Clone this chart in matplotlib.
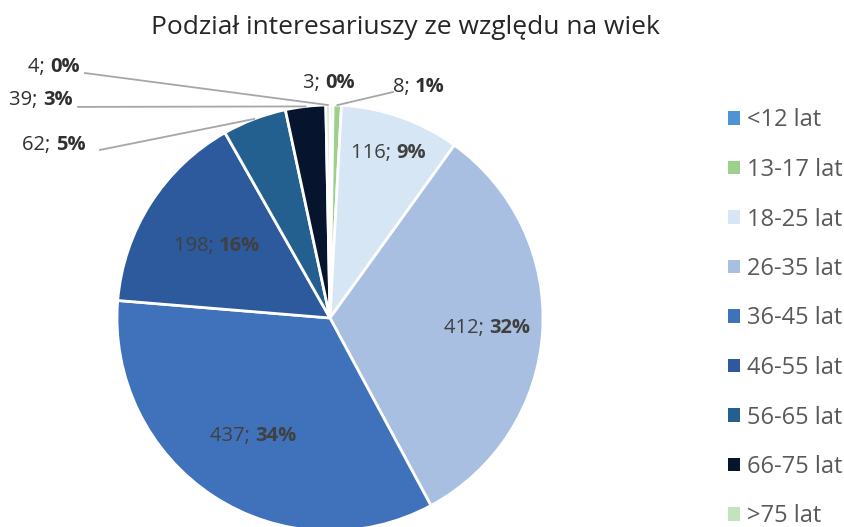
import numpy as np
import matplotlib.pyplot as plt
from matplotlib.patches import Patch
from matplotlib.offsetbox import TextArea, HPacker, AnnotationBbox

plt.rcParams['font.family'] = ['Open Sans', 'DejaVu Sans']

# data
categories = ['<12 lat', '13-17 lat', '18-25 lat', '26-35 lat', '36-45 lat',
              '46-55 lat', '56-65 lat', '66-75 lat', '>75 lat']
counts = [3, 8, 116, 412, 437, 198, 62, 39, 4]
percents = ['0%', '1%', '9%', '32%', '34%', '16%', '5%', '3%', '0%']

colors = ['#4E94D4', '#9DD08A', '#D6E6F5', '#A8BFE2', '#3F72BA',
          '#2D5A9C', '#23608F', '#07142E', '#C3E3BA']

# label placement: inside labels by radius, outside labels by explicit spot + leader
inside_r = {2: 0.82, 3: 0.74, 4: 0.66, 5: 0.63}
outside_pos = {0: (-0.005, 1.103), 1: (0.418, 1.085), 6: (-1.296, 0.812),
               7: (-1.357, 1.023), 8: (-1.296, 1.178)}
leader_start = {1: (0.296, 1.061), 6: (-1.080, 0.789),
                7: (-1.183, 0.991), 8: (-1.150, 1.150)}

fig = plt.figure(figsize=(8.45, 5.27), dpi=100)
cx, cy, R = 330, 318, 213
W, H = 845, 527
ax = fig.add_axes([(cx - R) / W, (H - cy - R) / H, 2 * R / W, 2 * R / H])

wedges, _ = ax.pie(counts, colors=colors, startangle=90, counterclock=False,
                   radius=1, wedgeprops=dict(edgecolor='white', linewidth=2))
ax.set_xlim(-1, 1)
ax.set_ylim(-1, 1)
ax.set_aspect('equal')
ax.axis('off')

total = sum(counts)
cum = np.cumsum([0] + counts)
fs = 14.5
for i, (c, p) in enumerate(zip(counts, percents)):
    mid = (cum[i] + cum[i + 1]) / 2 / total * 2 * np.pi
    ex, ey = np.sin(mid), np.cos(mid)
    txtcol = '#404040'
    if i in inside_r:
        pos = (ex * inside_r[i], ey * inside_r[i])
    else:
        pos = outside_pos[i]
        txtcol = '#303030'
        if i in leader_start:
            sx, sy = leader_start[i]
            ax.plot([sx, ex], [sy, ey], color='#A6A6A6', lw=1.3, clip_on=False)
    box = HPacker(children=[
        TextArea(f'{c}; ', textprops=dict(color=txtcol, fontsize=fs)),
        TextArea(p, textprops=dict(color=txtcol, fontsize=fs, fontweight='bold'))],
        pad=0, sep=0)
    ab = AnnotationBbox(box, pos, frameon=False, box_alignment=(0.5, 0.5),
                        annotation_clip=False)
    ax.add_artist(ab)

fig.text(405 / W, 1 - 28 / H, 'Podział interesariuszy ze względu na wiek',
         ha='center', va='center', fontsize=19, color='#262626')

handles = [Patch(facecolor=col, edgecolor='none') for col in colors]
fig.legend(handles, categories, loc='center left', bbox_to_anchor=(728 / W, 1 - 318.5 / H),
           frameon=False, fontsize=17, labelcolor='#595959', handlelength=0.5,
           handleheight=0.5, handletextpad=0.3, labelspacing=1.08,
           borderpad=0, borderaxespad=0)

fig.savefig('out.png', dpi=100)
